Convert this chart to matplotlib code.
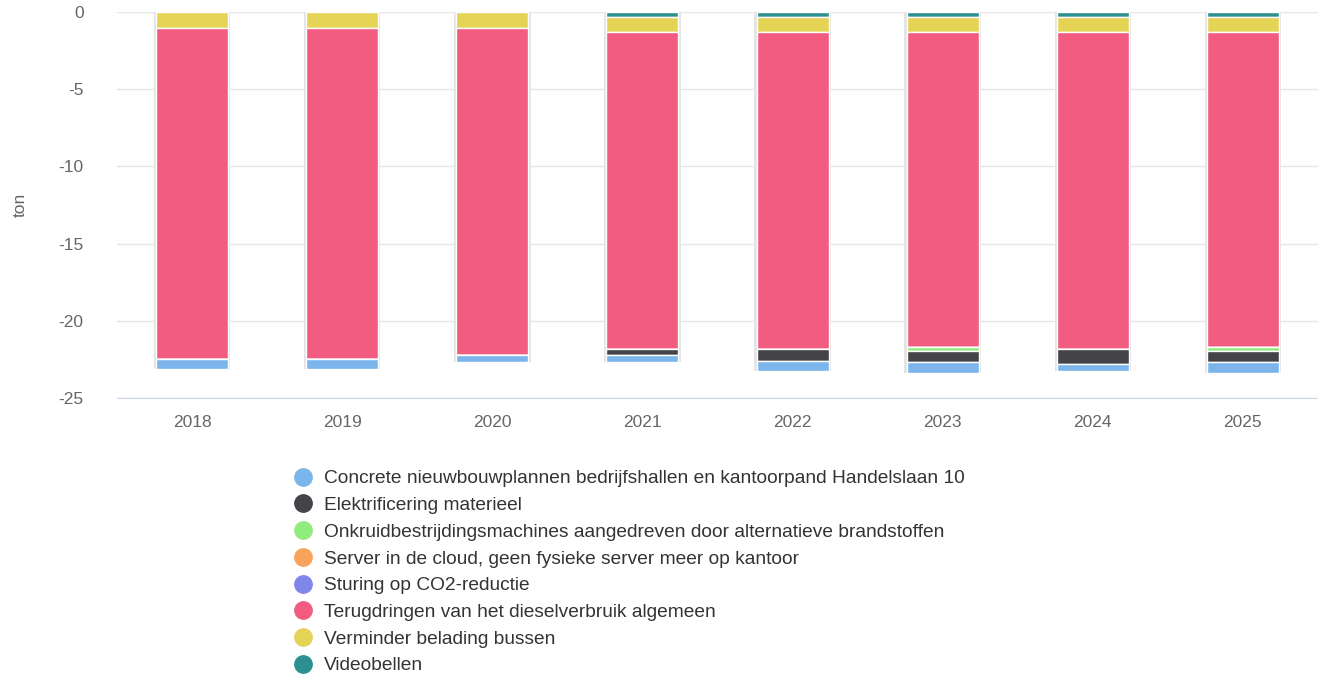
import numpy as np
import matplotlib
matplotlib.use("Agg")
import matplotlib.pyplot as plt
from matplotlib.lines import Line2D

plt.rcParams['font.family'] = ['Liberation Sans', 'DejaVu Sans']

# data (ton, negatief = reductie)
jaren = ['2018', '2019', '2020', '2021', '2022', '2023', '2024', '2025']
concrete = [-0.65, -0.65, -0.5, -0.5, -0.65, -0.65, -0.45, -0.65]
elektrificering = [0, 0, 0, -0.35, -0.75, -0.75, -0.95, -0.75]
onkruid = [0, 0, 0, 0, 0, -0.25, 0, -0.25]
server = [0, 0, 0, 0, 0, 0, 0, 0]
sturing = [0, 0, 0, 0, 0, 0, 0, 0]
diesel = [-21.4, -21.4, -21.15, -20.55, -20.55, -20.4, -20.55, -20.4]
belading = [-1.05, -1.05, -1.05, -1.0, -1.0, -1.0, -1.0, -1.0]
videobellen = [0, 0, 0, -0.3, -0.3, -0.3, -0.3, -0.3]

namen = ['Concrete nieuwbouwplannen bedrijfshallen en kantoorpand Handelslaan 10',
         'Elektrificering materieel',
         'Onkruidbestrijdingsmachines aangedreven door alternatieve brandstoffen',
         'Server in de cloud, geen fysieke server meer op kantoor',
         'Sturing op CO2-reductie',
         'Terugdringen van het dieselverbruik algemeen',
         'Verminder belading bussen',
         'Videobellen']
reeksen = [concrete, elektrificering, onkruid, server, sturing, diesel, belading, videobellen]
kleuren = ['#7cb5ec', '#434348', '#90ed7d', '#f7a35c', '#8085e9', '#f15c80', '#e4d354', '#2b908f']

fig = plt.figure(figsize=(13.18, 6.8), dpi=100)
ax = fig.add_axes([117/1318, 1-398/680, 1 - 117/1318, (398-12)/680])

x = np.arange(len(jaren))
breedte = 0.48

# schaduw achter de staven
totaal = np.sum(np.array(reeksen), axis=0)
ax.bar(x, totaal, width=breedte + 0.03, color='#e4e4e4', zorder=1)

# laatste reeks bovenaan (bij 0), eerste reeks onderaan
onder = np.zeros(len(jaren))
for waarden, kleur in zip(reeksen[::-1], kleuren[::-1]):
    w = np.array(waarden)
    ax.bar(x, w, bottom=onder, width=breedte, color=kleur,
           edgecolor='white', linewidth=1, zorder=2)
    onder = onder + w

ax.set_xlim(-0.5, len(jaren) - 0.5)
ax.set_ylim(-25, 0)
ax.set_yticks([0, -5, -10, -15, -20, -25])
ax.set_yticklabels(['0', '-5', '-10', '-15', '-20', '-25'])
ax.set_xticks(x)
ax.set_xticklabels(jaren)
ax.tick_params(axis='both', length=0, colors='#666666', labelsize=12.5)
ax.tick_params(axis='y', pad=24)
ax.tick_params(axis='x', pad=12)
ax.grid(axis='y', color='#e6e6e6', linewidth=1)
ax.set_axisbelow(True)
for s in ['top', 'right', 'left']:
    ax.spines[s].set_visible(False)
ax.spines['bottom'].set_color('#ccd6eb')
ax.spines['bottom'].set_zorder(0.5)
ax.set_ylabel('ton', color='#666666', fontsize=12.5, labelpad=22)

handles = [Line2D([], [], marker='o', linestyle='none', markersize=12.5,
                  markerfacecolor=k, markeredgecolor=k) for k in kleuren]
fig.legend(handles, namen, loc='upper left', bbox_to_anchor=(293/1318, 1-470/680),
           frameon=False, fontsize=13.8, labelspacing=0.485, handlelength=1.0,
           handletextpad=0.6, borderaxespad=0, borderpad=0, labelcolor='#333333')

fig.savefig('out.png', dpi=100)
